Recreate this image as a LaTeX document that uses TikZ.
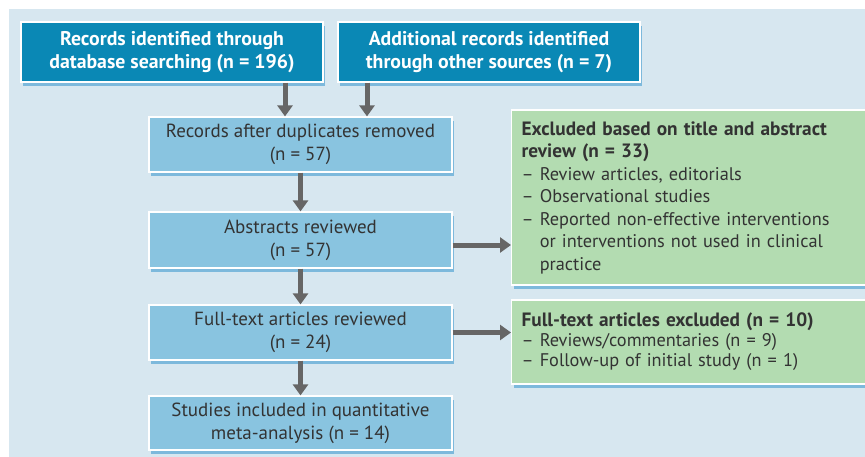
\documentclass[tikz,border=0pt]{standalone}
\usepackage{fontspec}
\setmainfont{PT Sans}
\usetikzlibrary{arrows.meta,shadows}
\definecolor{bg}{HTML}{D7E7F0}
\definecolor{darkbox}{HTML}{0A88B5}
\definecolor{lightbox}{HTML}{89C4E0}
\definecolor{greenbox}{HTML}{B3DCB1}
\definecolor{shadowblue}{HTML}{7DB9DC}
\definecolor{arrowgray}{HTML}{666666}
\definecolor{txt}{HTML}{333333}
\newcommand{\hb}[1]{{\fontsize{19.3}{22.5}\selectfont\bfseries #1}}
\begin{document}
\begin{tikzpicture}[x=1pt,y=-1pt,
  boxbase/.style={draw=white, line width=1.2pt, inner sep=0pt,
    general shadow={fill=shadowblue, shadow xshift=2pt, shadow yshift=-4pt}},
  topbox/.style={boxbase, fill=darkbox, text=white, minimum width=302pt, minimum height=60pt,
    align=center, font=\fontsize{19.8}{22.5}\selectfont\bfseries},
  stepbox/.style={boxbase, fill=lightbox, text=txt, minimum width=303pt, minimum height=55pt,
    align=center, font=\fontsize{19}{23}\selectfont},
  exclbox/.style={boxbase, fill=greenbox, text=txt, inner xsep=10pt, text width=339pt,
    align=left, anchor=west},
  arr/.style={draw=arrowgray, line width=5pt, -{Triangle[width=15pt,length=11pt]}}
]
\useasboundingbox (0,0) rectangle (865,456);
\clip (0,0) rectangle (865,456);
\fill[white] (0,0) rectangle (865,456);
\fill[bg] (9,9) rectangle (875,470);

\node[topbox] (A) at (172,52) {Records identified through\\database searching (n = 196)};
\node[topbox] (B) at (489,52) {Additional records identified\\through other sources (n = 7)};
\node[stepbox] (C) at (300.5,144.5) {Records after duplicates removed\\(n = 57)};
\node[stepbox, minimum height=56pt] (D) at (300.5,240) {Abstracts reviewed\\(n = 57)};
\node[stepbox] (E) at (300.5,332.5) {Full-text articles reviewed\\(n = 24)};
\node[stepbox, minimum height=54pt] (F) at (300.5,423) {Studies included in quantitative\\meta-analysis (n = 14)};

\node[exclbox, minimum height=175pt, font=\fontsize{18.3}{22.5}\selectfont] (G) at (511,197.5)
 {\hb{Excluded based on title and abstract}\\
  \hb{review (n = 33)}\\
  – Review articles, editorials\\
  – Observational studies\\
  – Reported non-effective interventions\\
  \phantom{– }or interventions not used in clinical\\
  \phantom{– }practice};
\node[exclbox, minimum height=84pt, font=\fontsize{18.3}{20}\selectfont] (H) at (511,342)
 {\hb{Full-text articles excluded (n = 10)}\\
  – Reviews/commentaries (n = 9)\\
  – Follow-up of initial study (n = 1)};

\draw[arr] ([xshift=113pt]A.south) -- ([xshift=113pt]A.south |- C.north);
\draw[arr] ([xshift=-122pt]B.south) -- ([xshift=-122pt]B.south |- C.north);
\draw[arr] (C.south) -- (D.north);
\draw[arr] (D.south) -- (E.north);
\draw[arr] (E.south) -- (F.north);
\draw[arr] ([yshift=-5pt]D.east) -- ([yshift=-5pt]D.east -| G.west);
\draw[arr] (E.east) -- (E.east -| H.west);
\end{tikzpicture}
\end{document}
